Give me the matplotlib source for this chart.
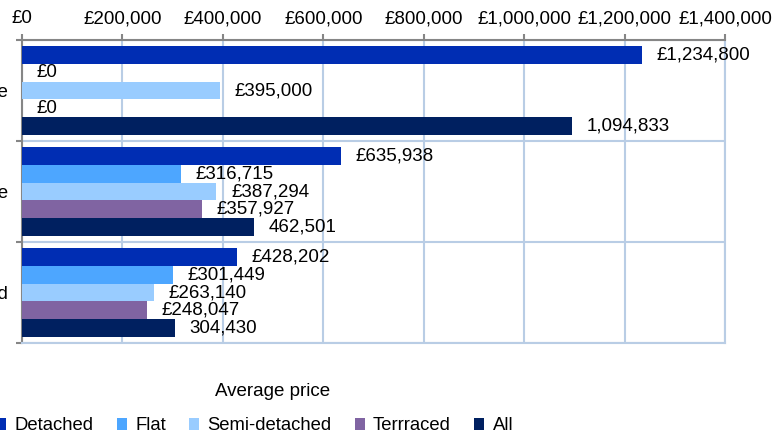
import numpy as np
import matplotlib
matplotlib.use("Agg")
import matplotlib.pyplot as plt
from matplotlib.patches import Patch

plt.rcParams["font.family"] = ["Liberation Sans", "DejaVu Sans"]

# Average sale price per property type, one row per area class
categories = ["Inside", "Outside", "Unclassified"]
series = ["Detached", "Flat", "Semi-detached", "Terrraced", "All"]
detached = [1234800, 635938, 428202]
flat = [0, 316715, 301449]
semi = [395000, 387294, 263140]
terraced = [0, 357927, 248047]
all_types = [1094833, 462501, 304430]
values = [detached, flat, semi, terraced, all_types]
label_prefix = ["£", "£", "£", "£", ""]
colors = ["#002db3", "#4da6ff", "#99ccff", "#8064a2", "#002060"]

x_ticks = list(range(0, 1400001, 200000))

W, H = 776, 437
fig = plt.figure(figsize=(W / 100, H / 100), dpi=100)
ax = fig.add_axes([22 / W, 1 - 343 / H, (725 - 22) / W, (343 - 40) / H])

grid_c = "#b9cde5"
axis_c = "#868686"
fs = 13.5

bar_h = 0.175
y_base = np.arange(len(categories))
for j, (name, vals) in enumerate(zip(series, values)):
    ys = y_base + (j - 2) * bar_h
    ax.barh(ys, vals, height=bar_h, color=colors[j], linewidth=0,
            zorder=3, label=name)
    for y, v in zip(ys, vals):
        ax.annotate(f"{label_prefix[j]}{v:,}", (v, y), xytext=(10.5, 0),
                    textcoords="offset points", va="center", ha="left",
                    fontsize=fs, color="black", zorder=4)

ax.set_xlim(0, 1400000)
ax.set_ylim(2.5, -0.5)

ax.xaxis.tick_top()
ax.set_xticks(x_ticks)
ax.set_xticklabels([f"£{t:,}" for t in x_ticks], fontsize=fs)
ax.tick_params(axis="x", which="major", direction="out", length=4.3,
               width=1.5, color=axis_c, pad=5)

# category boundaries carry the ticks, labels sit in the middle
ax.set_yticks([-0.5, 0.5, 1.5, 2.5])
ax.set_yticklabels([])
ax.set_yticks(y_base, minor=True)
ax.set_yticklabels(categories, minor=True, fontsize=fs)
ax.tick_params(axis="y", which="major", direction="out", length=4.3,
               width=1.5, color=axis_c)
ax.tick_params(axis="y", which="minor", length=0, pad=10)

ax.grid(True, which="major", color=grid_c, linewidth=1.5, zorder=0)
ax.set_axisbelow(True)
for side in ("left", "top"):
    ax.spines[side].set_color(axis_c)
    ax.spines[side].set_linewidth(1.5)
for side in ("right", "bottom"):
    ax.spines[side].set_color(grid_c)
    ax.spines[side].set_linewidth(1.5)

fig.text(273 / W, 1 - 392 / H, "Average price", ha="center", va="center",
         fontsize=fs)

handles = [Patch(facecolor=c, edgecolor="none") for c in colors]
fig.legend(handles, series, loc="center left",
           bbox_to_anchor=(-4 / W, 1 - 426 / H), ncol=5, frameon=False,
           fontsize=13.3, handlelength=0.55, handleheight=0.55,
           handletextpad=0.45, columnspacing=1.25, borderpad=0,
           borderaxespad=0)

fig.savefig("out.png", dpi=100)
